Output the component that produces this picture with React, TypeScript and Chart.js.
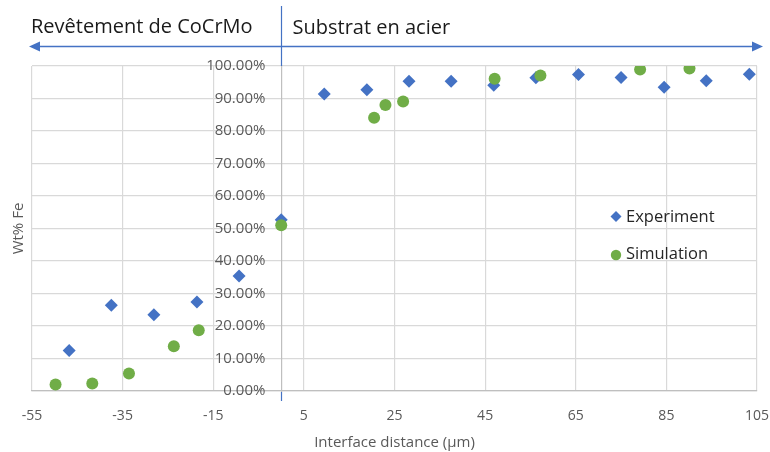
import React, { useEffect, useRef } from "react";
import { Chart, registerables } from "chart.js";

Chart.register(...registerables);

// Experiment (blue diamonds)
const expX = [-46.8, -37.5, -28.1, -18.6, -9.3, 0, 9.5, 18.9, 28.2, 37.5, 46.9, 56.2, 65.6, 75.0, 84.5, 93.8, 103.3];
const expY = [12.5, 26.4, 23.5, 27.4, 35.4, 52.7, 91.4, 92.7, 95.3, 95.3, 94.1, 96.4, 97.4, 96.5, 93.5, 95.5, 97.5];
// Simulation (green circles)
const simX = [-49.8, -41.7, -33.6, -23.7, -18.2, 0, 20.5, 23.0, 26.9, 47.1, 57.2, 79.2, 90.1];
const simY = [2.0, 2.3, 5.4, 13.8, 18.7, 51.0, 84.1, 88.0, 89.1, 96.1, 97.1, 98.9, 99.2];

const seriesNames = ["Experiment", "Simulation"];
const headerLeft = "Revêtement de CoCrMo";
const headerRight = "Substrat en acier";
const xTitle = "Interface distance (µm)";
const yTitle = "Wt% Fe";

const BLUE = "#4472C4";
const GREEN = "#70AD47";
const GRID = "#d9d9d9";
const AXIS = "#bfbfbf";
const TICK = "#595959";
const FONT = '"Open Sans", sans-serif';

const overlay = {
  id: "overlay",
  afterDraw(chart: any) {
    const ctx = chart.ctx as CanvasRenderingContext2D;
    const xs = chart.scales.x;
    const area = chart.chartArea;
    const x0 = Math.round(xs.getPixelForValue(0)) + 0.5;
    ctx.save();
    // vertical separator (blue)
    ctx.strokeStyle = BLUE;
    ctx.lineWidth = 1.2;
    ctx.beginPath();
    ctx.moveTo(x0, 6);
    ctx.lineTo(x0, area.top);
    ctx.moveTo(x0, area.bottom + 1);
    ctx.lineTo(x0, area.bottom + 10);
    ctx.stroke();
    // double arrow
    const ay = 46.5;
    const lx = area.left - 3;
    const rx = area.right + 6;
    ctx.lineWidth = 1.5;
    ctx.beginPath();
    ctx.moveTo(lx + 8, ay);
    ctx.lineTo(rx - 8, ay);
    ctx.stroke();
    ctx.fillStyle = BLUE;
    ctx.beginPath();
    ctx.moveTo(lx, ay);
    ctx.lineTo(lx + 11, ay - 5);
    ctx.lineTo(lx + 11, ay + 5);
    ctx.closePath();
    ctx.fill();
    ctx.beginPath();
    ctx.moveTo(rx, ay);
    ctx.lineTo(rx - 11, ay - 5);
    ctx.lineTo(rx - 11, ay + 5);
    ctx.closePath();
    ctx.fill();
    // header texts
    ctx.fillStyle = "#1a1a1a";
    ctx.font = `20px ${FONT}`;
    ctx.textBaseline = "alphabetic";
    ctx.textAlign = "left";
    ctx.fillText(headerLeft, area.left - 1, 32.5);
    ctx.fillText(headerRight, x0 + 11, 33.5);
    // y title
    ctx.save();
    ctx.translate(19, (area.top + area.bottom) / 2);
    ctx.rotate(-Math.PI / 2);
    ctx.fillStyle = TICK;
    ctx.font = `15px ${FONT}`;
    ctx.textAlign = "center";
    ctx.textBaseline = "middle";
    ctx.fillText(yTitle, 0, 0);
    ctx.restore();
    // legend
    const lgx = 616;
    const lgy = [216.5, 255];
    ctx.fillStyle = BLUE;
    ctx.beginPath();
    ctx.moveTo(lgx - 5.5, lgy[0]);
    ctx.lineTo(lgx, lgy[0] - 5.5);
    ctx.lineTo(lgx + 5.5, lgy[0]);
    ctx.lineTo(lgx, lgy[0] + 5.5);
    ctx.closePath();
    ctx.fill();
    ctx.fillStyle = GREEN;
    ctx.beginPath();
    ctx.arc(lgx, lgy[1], 5.2, 0, Math.PI * 2);
    ctx.fill();
    ctx.fillStyle = "#262626";
    ctx.font = `16.5px ${FONT}`;
    ctx.textAlign = "left";
    ctx.textBaseline = "middle";
    ctx.fillText(seriesNames[0], lgx + 10, lgy[0] + 0.5);
    ctx.fillText(seriesNames[1], lgx + 10, lgy[1] - 1);
    ctx.restore();
  },
};

export default function App() {
  const ref = useRef<HTMLCanvasElement | null>(null);
  useEffect(() => {
    if (!ref.current) return;
    const chart = new Chart(ref.current, {
      type: "scatter",
      data: {
        datasets: [
          {
            label: seriesNames[0],
            data: expX.map((x, i) => ({ x, y: expY[i] })),
            backgroundColor: BLUE,
            borderColor: BLUE,
            pointStyle: "rectRot",
            pointRadius: 6.5,
            pointBorderWidth: 0,
            order: 1,
          },
          {
            label: seriesNames[1],
            data: simX.map((x, i) => ({ x, y: simY[i] })),
            backgroundColor: GREEN,
            borderColor: GREEN,
            pointStyle: "circle",
            pointRadius: 6,
            pointBorderWidth: 0,
            order: 0,
          },
        ],
      },
      options: {
        responsive: false,
        animation: false,
        devicePixelRatio: 1,
        layout: { padding: { top: 66, left: 32, right: 13, bottom: 0 } },
        plugins: {
          legend: { display: false },
          tooltip: { enabled: false },
        },
        scales: {
          x: {
            type: "linear",
            position: "bottom",
            min: -55,
            max: 105,
            ticks: {
              stepSize: 20,
              color: TICK,
              font: { family: FONT, size: 14 },
              padding: 17,
            },
            grid: { color: GRID, drawTicks: false, lineWidth: 1.2 },
            border: { color: AXIS, width: 1.2 },
            title: {
              display: true,
              text: xTitle,
              color: TICK,
              font: { family: FONT, size: 15 },
              padding: { top: 0, bottom: 0 },
            },
            afterFit: (s: any) => {
              s.height = 61;
              s.paddingLeft = 0;
              s.paddingRight = 0;
            },
          },
          // tick labels, placed just left of the x = 0 axis line
          y: {
            type: "linear",
            position: { x: -3.5 },
            min: 0,
            max: 100,
            ticks: {
              stepSize: 10,
              color: TICK,
              font: { family: FONT, size: 15 },
              callback: (v: any) => Number(v).toFixed(2) + "%",
            },
            grid: { color: GRID, drawTicks: false, lineWidth: 1.2 },
            border: { display: false },
          },
          // vertical axis line crossing at x = 0
          y2: {
            type: "linear",
            position: { x: 0 },
            min: 0,
            max: 100,
            ticks: { display: false },
            grid: { display: false, drawTicks: false },
            border: { display: true, color: AXIS, width: 1.2 },
          },
        },
      },
      plugins: [overlay],
    });
    return () => chart.destroy();
  }, []);
  return (
    <div style={{ position: "fixed", left: 0, top: 0, width: 770, height: 452, background: "#fff" }}>
      <canvas ref={ref} width={770} height={452} />
    </div>
  );
}
